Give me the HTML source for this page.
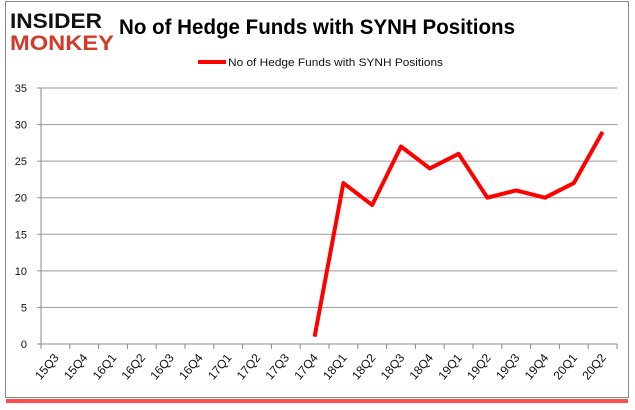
<!DOCTYPE html>
<html><head><meta charset="utf-8"><style>
body{margin:0;background:#fff;width:635px;height:405px;overflow:hidden;font-family:"Liberation Sans",sans-serif}
</style></head><body>
<svg width="635" height="405">
<rect x="6" y="399" width="622" height="4" fill="#f00" opacity="0.7"/>
<rect x="5.5" y="1.5" width="623" height="396" fill="#fff" stroke="#888"/>
<g>
<text x="10" y="28" font-size="21" font-weight="bold" fill="#111" font-family="Liberation Sans" textLength="92" lengthAdjust="spacingAndGlyphs">INSIDER</text>
<text x="10" y="50" font-size="21" font-weight="bold" fill="#d23a2a" font-family="Liberation Sans" textLength="104" lengthAdjust="spacingAndGlyphs">MONKEY</text>
</g>
<text x="119" y="34" font-size="21" font-weight="bold" fill="#000" textLength="396" lengthAdjust="spacingAndGlyphs">No of Hedge Funds with SYNH Positions</text>
<g>
<line x1="198" y1="62" x2="226" y2="62" stroke="#f00" stroke-width="4"/>
<text x="228" y="66" font-size="11" fill="#111" textLength="215" lengthAdjust="spacingAndGlyphs">No of Hedge Funds with SYNH Positions</text>
</g>
<g id="grid"></g><g id="xt"></g><g id="yl"></g>
<polyline id="line" fill="none" stroke="#f00" stroke-width="4" stroke-linejoin="round"/>
</svg>
<script>
const categories=["15Q3","15Q4","16Q1","16Q2","16Q3","16Q4","17Q1","17Q2","17Q3","17Q4","18Q1","18Q2","18Q3","18Q4","19Q1","19Q2","19Q3","19Q4","20Q1","20Q2"];
const values=[null,null,null,null,null,null,null,null,null,1,22,19,27,24,26,20,21,20,22,29];
const yTicks=[0,5,10,15,20,25,30,35];
const L=41,R=617,T=88,B=344,yMax=35;
const step=(R-L)/categories.length;
const x=i=>L+(i+0.5)*step, y=v=>B-v/yMax*(B-T);
const ns="http://www.w3.org/2000/svg";
function mk(t,a,p){const e=document.createElementNS(ns,t);for(const k in a)e.setAttribute(k,a[k]);p.appendChild(e);return e;}
const g=document.getElementById('grid'),xt=document.getElementById('xt'),yl=document.getElementById('yl');
yTicks.forEach(v=>{
 const l=mk('line',{x1:L-4,x2:R,y1:y(v),y2:y(v),stroke:v===0?'#888':'#999','stroke-width':1},g);
 
 
 const t=mk('text',{x:L-14,y:y(v)+4,'font-size':11,'text-anchor':'end',fill:'#111'},yl);t.textContent=v;
 
 
});
mk('line',{x1:L,x2:L,y1:T,y2:B,stroke:'#888'},g);
categories.forEach((c,i)=>{
 mk('line',{x1:L+i*step,x2:L+i*step,y1:B,y2:B+5,stroke:'#888'},g);
 const t=mk('text',{'font-size':12,fill:'#111','text-anchor':'end',transform:`translate(${x(i)+4},${B+14}) rotate(-50)`},xt);t.textContent=c;
 
 
});
mk('line',{x1:R,x2:R,y1:B,y2:B+5,stroke:'#888'},g);
document.getElementById('line').setAttribute('points',values.map((v,i)=>v==null?null:x(i)+','+y(v)).filter(Boolean).join(' '));
</script>
</body></html>
